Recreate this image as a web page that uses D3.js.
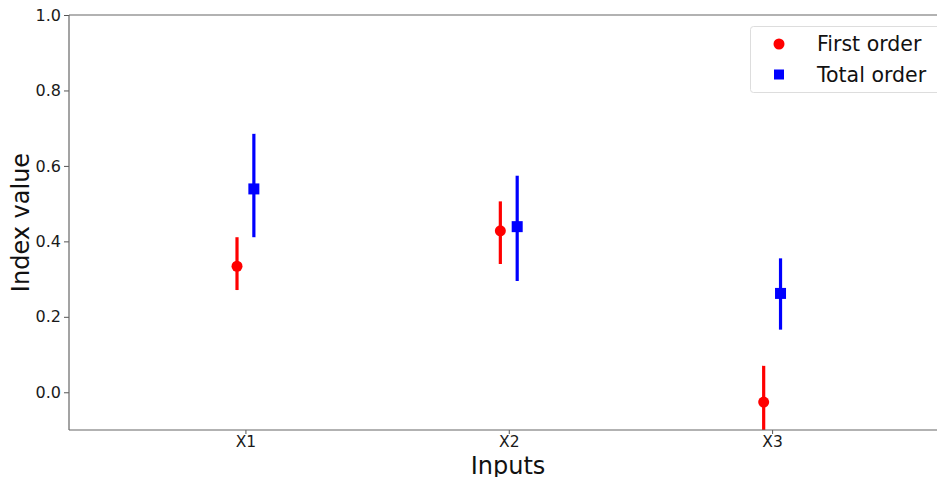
<!DOCTYPE html>
<html><head><meta charset="utf-8">
<script src="https://cdn.jsdelivr.net/npm/d3@7"></script>
<style>body{margin:0;background:#fff;} svg{display:block;font-family:"DejaVu Sans",sans-serif;}</style>
</head><body>
<script>
const categories = ["X1","X2","X3"];
const firstOrder = [0.334, 0.428, -0.026];
const firstLow   = [0.271, 0.340, -0.12];
const firstHigh  = [0.411, 0.506, 0.070];
const totalOrder = [0.539, 0.439, 0.262];
const totalLow   = [0.411, 0.295, 0.166];
const totalHigh  = [0.685, 0.574, 0.355];
const yTicks = [0.0, 0.2, 0.4, 0.6, 0.8, 1.0];

const W = 937, H = 477;
const m = {left: 69, top: 15, right: 938, bottom: 430};
const svg = d3.select("body").append("svg").attr("width", W).attr("height", H);

const x = d3.scaleLinear().domain([-0.67, 2.63]).range([m.left, m.right]);
const y = d3.scaleLinear().domain([-0.1, 1.0]).range([m.bottom, m.top]);
const off = 0.032;

svg.append("clipPath").attr("id","c").append("rect")
  .attr("x", m.left).attr("y", m.top).attr("width", m.right - m.left).attr("height", m.bottom - m.top);

const plot = svg.append("g").attr("clip-path","url(#c)");

function series(vals, lo, hi, color, dx, shape){
  const g = plot.append("g");
  g.selectAll("line").data(vals).join("line")
    .attr("x1", (d,i)=>x(i+dx)).attr("x2", (d,i)=>x(i+dx))
    .attr("y1", (d,i)=>y(lo[i])).attr("y2", (d,i)=>y(hi[i]))
    .attr("stroke", color).attr("stroke-width", 3.2);
  if (shape === "circle") {
    g.selectAll("circle").data(vals).join("circle")
      .attr("cx", (d,i)=>x(i+dx)).attr("cy", d=>y(d)).attr("r", 5.5).attr("fill", color);
  } else {
    g.selectAll("rect").data(vals).join("rect")
      .attr("x", (d,i)=>x(i+dx)-5.5).attr("y", d=>y(d)-5.5).attr("width", 11).attr("height", 11).attr("fill", color);
  }
}
series(firstOrder, firstLow, firstHigh, "#ff0000", -off, "circle");
series(totalOrder, totalLow, totalHigh, "#0000ff", off, "square");

// axes
const yAxis = d3.axisLeft(y).tickValues(yTicks).tickFormat(d3.format(".1f")).tickSize(5).tickPadding(3);
const gy = svg.append("g").attr("transform", `translate(${m.left},0)`).call(yAxis);
gy.select(".domain").remove();
gy.selectAll("text").attr("font-size", 16).attr("fill", "#1a1a1a").attr("font-family","DejaVu Sans");
gy.selectAll("line").attr("stroke", "#555");

const xAxis = d3.axisBottom(x).tickValues([0,1,2]).tickFormat(i=>categories[i]).tickSize(4).tickPadding(2);
const gx = svg.append("g").attr("transform", `translate(0,${m.bottom})`).call(xAxis);
gx.select(".domain").remove();
gx.selectAll("text").attr("font-size", 15.5).attr("fill", "#1a1a1a").attr("font-family","DejaVu Sans");
gx.selectAll("line").attr("stroke", "#555");

// spines
svg.append("line").attr("x1", m.left).attr("x2", m.left).attr("y1", m.top).attr("y2", m.bottom).attr("stroke","#666").attr("stroke-width",1.2);
svg.append("line").attr("x1", m.left).attr("x2", m.right).attr("y1", m.bottom).attr("y2", m.bottom).attr("stroke","#666").attr("stroke-width",1.2);
svg.append("line").attr("x1", m.left).attr("x2", m.right).attr("y1", m.top).attr("y2", m.top).attr("stroke","#666").attr("stroke-width",1.2);

// axis labels
svg.append("text").attr("transform", `translate(29,${(m.top+m.bottom)/2}) rotate(-90)`)
  .attr("text-anchor","middle").attr("font-size", 24).attr("fill","#111").text("Index value");
svg.append("text").attr("x", 508).attr("y", 474).attr("text-anchor","middle")
  .attr("font-size", 24).attr("fill","#111").text("Inputs");

// legend
const lg = svg.append("g");
lg.append("rect").attr("x", 750.5).attr("y", 26.5).attr("width", 200).attr("height", 66).attr("rx", 3)
  .attr("fill","#fff").attr("fill-opacity",0.8).attr("stroke","#ddd");
const items = [{label:"First order", color:"#ff0000", shape:"circle"},{label:"Total order", color:"#0000ff", shape:"square"}];
items.forEach((it, k) => {
  const cy = 44 + k*30.5;
  if (it.shape === "circle") lg.append("circle").attr("cx", 779).attr("cy", cy).attr("r", 5.5).attr("fill", it.color);
  else lg.append("rect").attr("x", 774).attr("y", cy-5).attr("width", 10).attr("height", 10).attr("fill", it.color);
  lg.append("text").attr("x", 817).attr("y", cy).attr("dy","0.35em").attr("font-size", 20.5).attr("fill","#111").text(it.label);
});
</script>
</body></html>
